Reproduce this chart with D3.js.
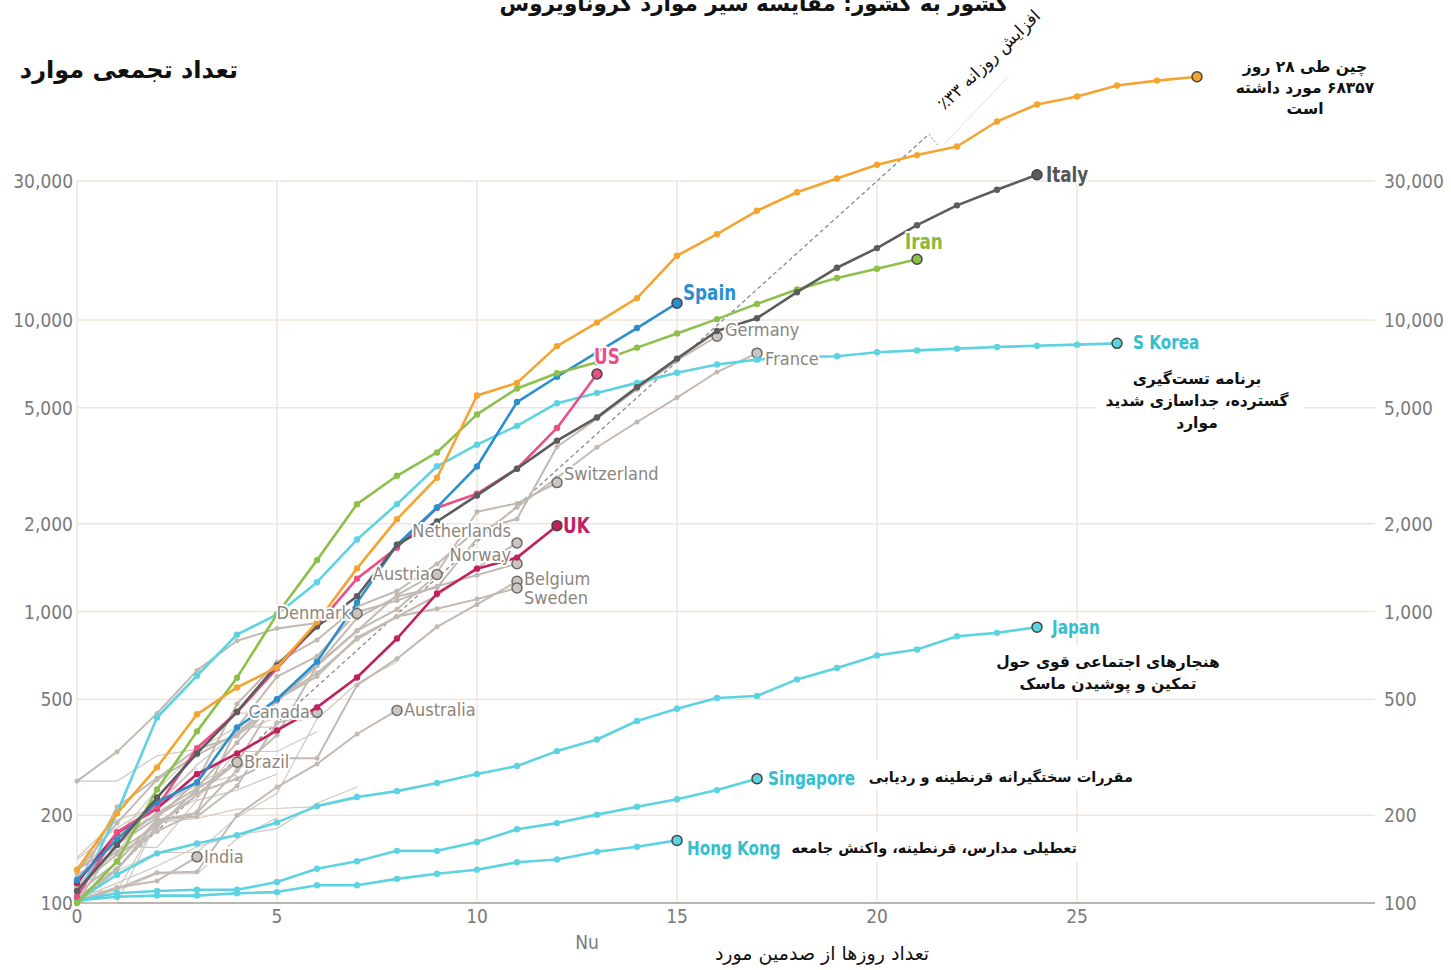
<!DOCTYPE html>
<html>
<head>
<meta charset="utf-8">
<script src="https://cdn.jsdelivr.net/npm/d3@7"></script>
<style>
  body { margin: 0; background: #fff; }
  svg { display: block; }
  .tick-label { font-family: "DejaVu Sans", sans-serif; fill: #7a7a7a; font-size: 19px; }
  .fa { font-family: "DejaVu Sans", sans-serif; direction: rtl; }
  .lbl { font-family: "DejaVu Sans", sans-serif; paint-order: stroke; stroke: #fff; stroke-width: 4px; stroke-linejoin: round; }
</style>
</head>
<body>
<div id="vis"></div>
<script>
// ---- data: cumulative cases, index = days since 100th case ----
const china     = [130, 203, 292, 444, 549, 643, 920, 1406, 2075, 2877, 5509, 6087, 8141, 9802, 11891, 16630, 19716, 23707, 27440, 30587, 34110, 36814, 39400, 48000, 54900, 58500, 63800, 66300, 68357];
const italy     = [110, 158, 230, 326, 453, 655, 888, 1128, 1694, 2036, 2502, 3089, 3858, 4636, 5883, 7375, 9172, 10149, 12462, 15113, 17660, 21157, 24747, 27980, 31506];
const iran      = [100, 139, 245, 388, 593, 978, 1501, 2336, 2922, 3513, 4747, 5823, 6566, 7161, 8042, 9000, 10075, 11364, 12729, 13938, 14991, 16169];
const spain     = [120, 165, 222, 259, 400, 500, 673, 1073, 1695, 2277, 3146, 5232, 6391, 7750, 9390, 11430];
const us        = [105, 175, 213, 340, 451, 638, 896, 1297, 1656, 2270, 2535, 3090, 4266, 6530];
const uk        = [117, 174, 211, 277, 326, 391, 469, 594, 808, 1153, 1403, 1531, 1971];
const sKorea    = [104, 204, 433, 602, 833, 977, 1261, 1766, 2337, 3150, 3736, 4335, 5186, 5621, 6088, 6593, 7041, 7314, 7478, 7513, 7755, 7869, 7979, 8086, 8162, 8236, 8320];
const japan     = [102, 125, 148, 160, 171, 189, 215, 231, 242, 258, 277, 295, 332, 364, 421, 464, 505, 513, 585, 640, 707, 741, 823, 845, 884];
const singapore = [102, 108, 110, 111, 111, 118, 131, 139, 151, 151, 162, 179, 188, 201, 214, 227, 244, 267];
const hongKong  = [102, 105, 106, 106, 108, 109, 115, 115, 121, 126, 130, 138, 141, 150, 156, 164];

const germany     = [130, 159, 196, 262, 482, 670, 799, 1040, 1176, 1457, 1908, 2078, 3675, 4585, 5795, 7272, 8800];
const france      = [100, 130, 191, 204, 285, 377, 653, 949, 1126, 1209, 1784, 2281, 2876, 3661, 4469, 5423, 6633, 7700];
const switzerland = [114, 214, 268, 337, 374, 491, 652, 858, 1139, 1359, 2200, 2350, 2770];
const netherlands = [128, 188, 265, 321, 382, 503, 614, 804, 959, 1135, 1413, 1720];
const norway      = [113, 147, 176, 205, 400, 598, 702, 996, 1090, 1221, 1333, 1460];
const belgium     = [109, 169, 200, 239, 267, 314, 314, 559, 689, 886, 1058, 1270];
const sweden      = [101, 161, 203, 248, 355, 500, 599, 814, 961, 1022, 1103, 1205];
const austria     = [104, 131, 182, 246, 302, 504, 655, 860, 1018, 1340];
const denmark     = [262, 330, 447, 628, 794, 874, 914, 985];
const canada      = [108, 138, 193, 198, 252, 415, 451];
const australia   = [100, 112, 127, 128, 200, 250, 300, 380, 458];
const brazil      = [125, 150, 185, 235, 304];
const india       = [102, 113, 119, 144];

// other countries, unlabelled
const qatar    = [262, 262, 320, 337, 401, 401, 439];
const malaysia = [117, 129, 149, 149, 197, 238, 428, 566, 673];
const greece   = [99, 99, 190, 228, 331, 331, 387];
const finland  = [109, 156, 155, 225, 244, 277];
const czechia  = [116, 150, 214, 298, 383, 434];
const portugal = [112, 169, 245, 331, 448, 448];
const israel   = [143, 193, 213, 255, 304];
const ireland  = [129, 169, 223, 292];
const bahrain  = [109, 110, 189, 195, 210, 211, 214, 228];
const slovenia = [141, 181, 219, 253, 275];
const iceland  = [103, 117, 134, 156, 171, 180, 220, 250];
const egypt    = [109, 110, 126, 126, 166, 196];

const yTicks = [100, 200, 500, 1000, 2000, 5000, 10000, 30000];
const xTicks = [0, 5, 10, 15, 20, 25];
const dailyGrowth = 0.33;
const growthDays = 21.3;

// ---- layout ----
const W = 1451, H = 970;
const gridRight = 1375;
const x = d3.scaleLinear().domain([0, 25]).range([77, 1077]);
const y = d3.scaleLog().domain([100, 30000]).range([903, 181]);

const svg = d3.select("#vis").append("svg").attr("width", W).attr("height", H);

const CYAN = "#5dd3e2", CYAN_T = "#35bfce";
const GRAY = "#c2bab2", GRAY_T = "#8c857e";

// grid
const grid = svg.append("g");
grid.selectAll(".h").data(yTicks.filter(d => d > 100)).join("line")
  .attr("x1", x(0)).attr("x2", gridRight)
  .attr("y1", d => y(d)).attr("y2", d => y(d))
  .attr("stroke", "#f0e5dc").attr("stroke-width", 1.5);
grid.selectAll(".v").data(xTicks).join("line")
  .attr("x1", d => x(d)).attr("x2", d => x(d))
  .attr("y1", y(30000)).attr("y2", y(100))
  .attr("stroke", "#f0e5dc").attr("stroke-width", 1.5);
grid.append("line")
  .attr("x1", x(0)).attr("x2", gridRight).attr("y1", y(100)).attr("y2", y(100))
  .attr("stroke", "#b8b4b0").attr("stroke-width", 2);

// tick labels (narrowed to look like the condensed original)
const fmt = d3.format(",");
function narrowText(sel, px, py, k) {
  return sel.attr("transform", (d, i) => `translate(${px(d, i)},${py(d, i)}) scale(${k},1)`);
}
narrowText(svg.selectAll(".yl").data(yTicks).join("text").attr("class", "tick-label")
  .attr("text-anchor", "end").text(d => fmt(d)), () => 73, d => y(d) + 7, 0.9);
narrowText(svg.selectAll(".yr").data(yTicks).join("text").attr("class", "tick-label")
  .attr("text-anchor", "start").text(d => fmt(d)), () => 1384, d => y(d) + 7, 0.9);
narrowText(svg.selectAll(".xl").data(xTicks).join("text").attr("class", "tick-label")
  .attr("text-anchor", "middle").text(d => d), d => x(d), () => y(100) + 20, 0.9);

// annotation backgrounds (hide gridlines behind notes)
const bg = [[1095, 364, 210, 70], [1000, 646, 235, 52], [870, 760, 270, 30], [790, 832, 292, 30], [1235, 52, 145, 70]];
svg.selectAll(".bg").data(bg).join("rect")
  .attr("x", d => d[0]).attr("y", d => d[1]).attr("width", d => d[2]).attr("height", d => d[3])
  .attr("fill", "#fff");

// 33% daily growth guide
const guide = d3.range(0, growthDays + 0.01, 0.1).map(d => [d, 100 * Math.pow(1 + dailyGrowth, d)]);
guide.push([growthDays, 100 * Math.pow(1 + dailyGrowth, growthDays)]);
svg.append("path")
  .attr("d", d3.line().x(d => x(d[0])).y(d => y(d[1]))(guide))
  .attr("fill", "none").attr("stroke", "#8a8a8a").attr("stroke-width", 1.3).attr("stroke-dasharray", "4,3");
const gEnd = [x(growthDays), y(100 * Math.pow(1 + dailyGrowth, growthDays))];
svg.append("path")
  .attr("d", `M${gEnd[0]},${gEnd[1]}L${gEnd[0] + 10},${gEnd[1] + 13}`)
  .attr("stroke", "#8a8a8a").attr("stroke-width", 1).attr("stroke-dasharray", "2,2").attr("fill", "none");
svg.append("path")
  .attr("d", `M${gEnd[0] + 16},${gEnd[1] + 9}L${gEnd[0] + 80},${gEnd[1] - 58}`)
  .attr("stroke", "#e6dfd8").attr("stroke-width", 1).attr("fill", "none");
svg.append("text").attr("class", "fa")
  .attr("transform", `translate(993,64) rotate(-44)`)
  .attr("text-anchor", "middle").attr("font-size", 17).attr("fill", "#111")
  .text("افزایش روزانه ۳۳٪");

// series
const line = d3.line().x((d, i) => x(i)).y(d => y(Math.max(d, 100)));

const others = [qatar, malaysia, greece, finland, czechia, portugal, israel, ireland, bahrain, slovenia, iceland, egypt];
svg.append("g").selectAll("path").data(others).join("path")
  .attr("d", line).attr("fill", "none").attr("stroke", "#cfc8c1").attr("stroke-width", 1.2);

const grayed = [
  { v: germany, t: "Germany", dx: 8, dy: 0, a: "start" },
  { v: france, t: "France", dx: 8, dy: 12, a: "start" },
  { v: switzerland, t: "Switzerland", dx: 7, dy: -3, a: "start" },
  { v: netherlands, t: "Netherlands", dx: -6, dy: -6, a: "end" },
  { v: norway, t: "Norway", dx: -6, dy: -3, a: "end" },
  { v: belgium, t: "Belgium", dx: 7, dy: 4, a: "start" },
  { v: sweden, t: "Sweden", dx: 7, dy: 16, a: "start" },
  { v: austria, t: "Austria", dx: -7, dy: 6, a: "end" },
  { v: denmark, t: "Denmark", dx: -6, dy: 6, a: "end" },
  { v: canada, t: "Canada", dx: -7, dy: 6, a: "end" },
  { v: australia, t: "Australia", dx: 7, dy: 6, a: "start" },
  { v: brazil, t: "Brazil", dx: 7, dy: 6, a: "start" },
  { v: india, t: "India", dx: 7, dy: 6, a: "start" }
];

const main = [
  { v: hongKong, c: CYAN, tc: CYAN_T, t: "Hong Kong", dx: 10, dy: 15, a: "start", s: 19 },
  { v: singapore, c: CYAN, tc: CYAN_T, t: "Singapore", dx: 11, dy: 6, a: "start", s: 19 },
  { v: japan, c: CYAN, tc: CYAN_T, t: "Japan", dx: 15, dy: 7, a: "start", s: 19 },
  { v: sKorea, c: CYAN, tc: CYAN_T, t: "S Korea", dx: 16, dy: 6, a: "start", s: 19 },
  { v: uk, c: "#c2215f", tc: "#c2215f", t: "UK", dx: 6, dy: 7, a: "start", s: 21 },
  { v: us, c: "#ea4f88", tc: "#ea4f88", t: "US", dx: -3, dy: -10, a: "start", s: 21 },
  { v: spain, c: "#2b8fcf", tc: "#2b8fcf", t: "Spain", dx: 6, dy: -3, a: "start", s: 21 },
  { v: iran, c: "#8cc04b", tc: "#8cb83f", t: "Iran", dx: -12, dy: -10, a: "start", s: 21 },
  { v: italy, c: "#5c5c5c", tc: "#555", t: "Italy", dx: 9, dy: 7, a: "start", s: 21 },
  { v: china, c: "#f4a431", tc: null, t: null }
];

function drawSeries(s, color, width, dotR, endFill, endStroke) {
  const g = svg.append("g");
  g.append("path").attr("d", line(s.v)).attr("fill", "none")
    .attr("stroke", color).attr("stroke-width", width).attr("stroke-linejoin", "round");
  g.selectAll("circle").data(s.v.slice(0, -1)).join("circle")
    .attr("cx", (d, i) => x(i)).attr("cy", d => y(Math.max(d, 100))).attr("r", dotR).attr("fill", color);
  const n = s.v.length - 1;
  g.append("circle").attr("cx", x(n)).attr("cy", y(s.v[n])).attr("r", 5)
    .attr("fill", endFill).attr("stroke", endStroke).attr("stroke-width", 1.5);
}

grayed.forEach(s => drawSeries(s, GRAY, 2, 2.5, "#cbc6c1", "#6f6a66"));
main.forEach(s => drawSeries(s, s.c, 2.6, 3.2, s.c, "#444"));

// labels
function drawLabel(s, color, size, weight, k) {
  const n = s.v.length - 1;
  svg.append("text").attr("class", "lbl")
    .attr("transform", `translate(${x(n) + s.dx},${y(s.v[n]) + s.dy}) scale(${k},1)`)
    .attr("text-anchor", s.a).attr("font-size", size).attr("font-weight", weight)
    .attr("fill", color).text(s.t);
}
grayed.forEach(s => drawLabel(s, GRAY_T, 18, "normal", 0.9));
main.filter(s => s.t).forEach(s => drawLabel(s, s.tc, s.s, "bold", 0.8));

// titles and notes (Persian)
function note(lines, cx, y0, lh, size, anchor) {
  const t = svg.append("text").attr("class", "fa").attr("font-size", size)
    .attr("font-weight", "bold").attr("fill", "#111").attr("text-anchor", anchor || "middle");
  lines.forEach((l, i) => t.append("tspan").attr("x", cx).attr("y", y0 + i * lh).text(l));
}
svg.append("text").attr("class", "fa").attr("x", 754).attr("y", 11)
  .attr("text-anchor", "middle").attr("font-size", 21.5).attr("font-weight", "bold").attr("fill", "#111")
  .text("کشور به کشور: مقایسه سیر موارد کروناویروس");
svg.append("text").attr("class", "fa").attr("x", 238).attr("y", 78)
  .attr("text-anchor", "start").attr("font-size", 24).attr("font-weight", "bold").attr("fill", "#111")
  .text("تعداد تجمعی موارد");
note(["چین طی ۲۸ روز", "۶۸۳۵۷ مورد داشته", "است"], 1305, 72, 21, 15.5);
note(["برنامه تست‌گیری", "گسترده، جداسازی شدید", "موارد"], 1197, 384, 22, 15.5);
note(["هنجارهای اجتماعی قوی حول", "تمکین و پوشیدن ماسک"], 1108, 667, 22, 15.5);
note(["مقررات سختگیرانه قرنطینه و ردیابی"], 1133, 782, 22, 14.5, "start");
note(["تعطیلی مدارس، قرنطینه، واکنش جامعه"], 1077, 853, 22, 14.5, "start");

svg.append("text").attr("class", "tick-label").attr("transform", "translate(587,949) scale(0.9,1)")
  .attr("text-anchor", "middle").text("Nu");
svg.append("text").attr("class", "fa").attr("x", 822).attr("y", 960)
  .attr("text-anchor", "middle").attr("font-size", 19).attr("fill", "#111")
  .text("تعداد روزها از صدمین مورد");
</script>
</body>
</html>
